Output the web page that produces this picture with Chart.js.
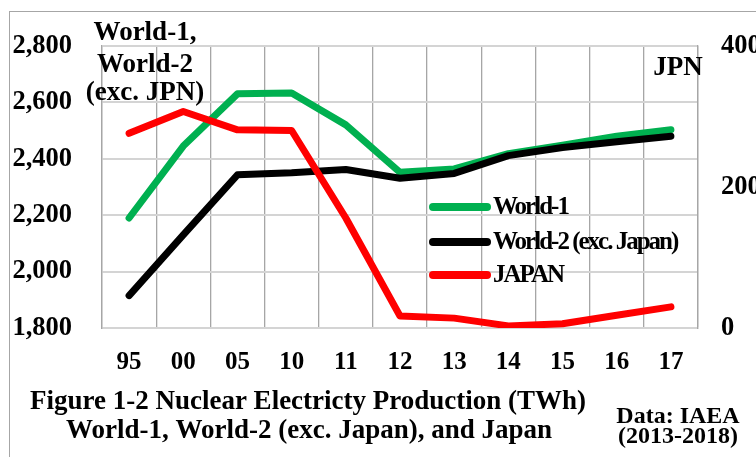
<!DOCTYPE html>
<html>
<head>
<meta charset="utf-8">
<script src="https://cdn.jsdelivr.net/npm/chart.js@4.4.0/dist/chart.umd.min.js"></script>
<style>
  html, body { margin: 0; padding: 0; background: #fff; }
  #wrap { width: 756px; height: 457px; }
</style>
</head>
<body>
<div id="wrap"><canvas id="nuke-chart" width="756" height="457"></canvas></div>
<script>
// --- data ---
const years = ["95", "00", "05", "10", "11", "12", "13", "14", "15", "16", "17"];
const world1 = [2190, 2445, 2630, 2633, 2520, 2352, 2364, 2418, 2448, 2480, 2503];
const world2 = [1915, 2130, 2343, 2350, 2362, 2331, 2348, 2411, 2440, 2460, 2480];
const japan = [276, 307, 281, 280, 156, 17, 14, 3, 6, 18, 30];

const leftTicks = [1800, 2000, 2200, 2400, 2600, 2800];
const rightTicks = [0, 200, 400];

const seriesNames = ["World-1", "World-2 (exc. Japan)", "JAPAN"];
const seriesColors = ["#00b050", "#000000", "#ff0000"];

const FONT = '"Liberation Serif", "Times New Roman", serif';

document.addEventListener("DOMContentLoaded", () => {
  // background + outer frame + loose texts
  const decorPlugin = {
    id: "decor",
    beforeDraw(chart) {
      const ctx = chart.ctx;
      ctx.save();
      ctx.fillStyle = "#fff";
      ctx.fillRect(0, 0, chart.width, chart.height);
      ctx.strokeStyle = "#a6a6a6";
      ctx.lineWidth = 1;
      ctx.strokeRect(9.5, 11.5, 800, 500);
      ctx.restore();
    },
    afterDraw(chart) {
      const ctx = chart.ctx;
      ctx.save();
      ctx.fillStyle = "#000";
      ctx.textBaseline = "alphabetic";
      ctx.textAlign = "center";
      ctx.font = "bold 27px " + FONT;
      // axis notes
      ctx.fillText("World-1,", 145, 40);
      ctx.fillText("World-2", 145, 72);
      ctx.fillText("(exc. JPN)", 145, 100);
      ctx.fillText("JPN", 678, 75);
      // caption
      ctx.fillText("Figure 1-2 Nuclear Electricty Production (TWh)", 308, 409);
      ctx.fillText("World-1, World-2 (exc. Japan), and Japan", 309, 438);
      ctx.font = "bold 24px " + FONT;
      ctx.fillText("Data: IAEA", 678, 423);
      ctx.fillText("(2013-2018)", 678, 443);

      // legend inside the plot
      const rows = [207, 242, 275];
      ctx.textAlign = "left";
      ctx.textBaseline = "middle";
      ctx.font = "bold 25px " + FONT;
      ctx.letterSpacing = "-2px";
      seriesNames.forEach((name, i) => {
        ctx.strokeStyle = seriesColors[i];
        ctx.lineWidth = 8;
        ctx.lineCap = "round";
        ctx.beginPath();
        ctx.moveTo(433, rows[i]);
        ctx.lineTo(487, rows[i]);
        ctx.stroke();
        ctx.fillText(name, 493, rows[i] + 1);
      });
      ctx.restore();
    },
  };

  const ctx = document.getElementById("nuke-chart").getContext("2d");
  const chart = new Chart(ctx, {
    type: "line",
    data: {
      labels: years,
      datasets: [
        {
          label: seriesNames[0],
          data: world1,
          borderColor: seriesColors[0],
          yAxisID: "y",
          order: 2,
        },
        {
          label: seriesNames[1],
          data: world2,
          borderColor: seriesColors[1],
          yAxisID: "y",
          order: 1,
        },
        {
          label: seriesNames[2],
          data: japan,
          borderColor: seriesColors[2],
          yAxisID: "y1",
          order: 0,
        },
      ],
    },
    options: {
      responsive: false,
      animation: false,
      devicePixelRatio: 1,
      layout: { padding: { top: 40, left: 0, right: 0, bottom: 0 } },
      elements: {
        line: { borderWidth: 7, tension: 0, borderCapStyle: "round", borderJoinStyle: "round", fill: false },
        point: { radius: 0, hoverRadius: 0 },
      },
      plugins: {
        legend: { display: false },
        tooltip: { enabled: false },
      },
      scales: {
        x: {
          offset: true,
          grid: { offset: true, color: "#a6a6a6", lineWidth: 1.3, drawTicks: false },
          border: { color: "#d4d4d4", width: 2 },
          ticks: {
            color: "#000",
            font: { family: FONT, size: 25, weight: "bold" },
            padding: 20,
            maxRotation: 0,
            autoSkip: false,
          },
          afterFit: (scale) => { scale.height = 129; },
        },
        y: {
          position: "left",
          min: leftTicks[0],
          max: leftTicks[leftTicks.length - 1],
          afterBuildTicks: (scale) => { scale.ticks = leftTicks.map((v) => ({ value: v })); },
          grid: { color: "#d4d4d4", lineWidth: 2, drawTicks: false },
          border: { color: "#a6a6a6", width: 1.3 },
          ticks: {
            color: "#000",
            font: { family: FONT, size: 26.5, weight: "bold" },
            padding: 30,
            callback: (v) => v.toLocaleString("en-US"),
          },
          afterFit: (scale) => { scale.width = 102; },
        },
        y1: {
          position: "right",
          min: rightTicks[0],
          max: rightTicks[rightTicks.length - 1],
          afterBuildTicks: (scale) => { scale.ticks = rightTicks.map((v) => ({ value: v })); },
          grid: { display: false, drawTicks: false },
          border: { color: "#a6a6a6", width: 1.3 },
          ticks: {
            color: "#000",
            font: { family: FONT, size: 26.5, weight: "bold" },
            padding: 23,
            callback: (v) => String(v),
          },
          afterFit: (scale) => { scale.width = 58; },
        },
      },
    },
    plugins: [decorPlugin],
  });
});
</script>
</body>
</html>
